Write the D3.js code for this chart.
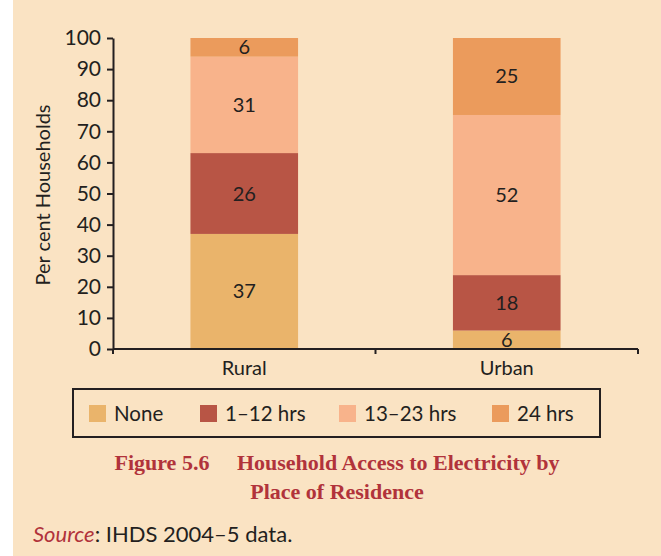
<!DOCTYPE html>
<meta charset="utf-8">
<style>
body{margin:0;background:#fff;}
text{font-family:"Lato","Noto Sans",sans-serif;fill:#231f20;}
.axis text{font-size:21px;}
.axis path,.axis line{stroke:#231f20;stroke-width:2px;}
.seg{font-size:20px;text-anchor:middle;}
.title{font-family:"Liberation Serif","DejaVu Serif",serif;font-size:22px;font-weight:bold;fill:#b1333b;text-anchor:middle;}
</style>
<body>
<script src="https://cdn.jsdelivr.net/npm/d3@7"></script>
<script>
var places = ["Rural","Urban"];
var series = ["None","1\u201312 hrs","13\u201323 hrs","24 hrs"];
var none    = [37, 6];
var hrs1_12 = [26, 18];
var hrs13_23= [31, 52];
var hrs24   = [6, 25];
var yTicks  = [0,10,20,30,40,50,60,70,80,90,100];
var colors  = ["#eab46b","#b85545","#f8b38b","#eb9b5c"];

var rows = places.map(function(p,i){
  return {place:p, "None":none[i], "1\u201312 hrs":hrs1_12[i], "13\u201323 hrs":hrs13_23[i], "24 hrs":hrs24[i]};
});

var W=661,H=556;
var svg=d3.select("body").append("svg").attr("width",W).attr("height",H);
svg.append("rect").attr("x",13).attr("y",0).attr("width",W-13).attr("height",H).attr("fill","#fae3c3");

var x=d3.scaleBand().domain(places).range([113,638]).paddingInner(0.59).paddingOuter(0.295);
var y=d3.scaleLinear().domain([0,1]).range([349,38]);
var color=d3.scaleOrdinal().domain(series).range(colors);

var stack=d3.stack().keys(series).offset(d3.stackOffsetExpand)(rows);

var g=svg.selectAll(".layer").data(stack).enter().append("g").attr("fill",function(d){return color(d.key);});
g.selectAll("rect").data(function(d){return d;}).enter().append("rect")
  .attr("x",function(d){return x(d.data.place);})
  .attr("width",x.bandwidth())
  .attr("y",function(d){return y(d[1]);})
  .attr("height",function(d){return y(d[0])-y(d[1]);});

g.each(function(s){
  d3.select(this).selectAll("text").data(s).enter().append("text").attr("class","seg")
    .attr("x",function(d){return x(d.data.place)+x.bandwidth()/2;})
    .attr("y",function(d){return (y(d[0])+y(d[1]))/2+7;})
    .text(function(d){return d.data[s.key];});
});

// y axis
svg.append("g").attr("class","axis").attr("transform","translate(113,0)")
  .call(d3.axisLeft(d3.scaleLinear().domain([0,100]).range([349,38])).tickValues(yTicks).tickSize(6).tickSizeOuter(0).tickPadding(6));
// x axis, ticks at band edges
var xa=svg.append("g").attr("class","axis").attr("transform","translate(0,349)");
xa.append("line").attr("x1",113).attr("x2",638).attr("y1",0).attr("y2",0);
var edges=[113].concat(places.map(function(p){return x(p)+x.bandwidth()+x.step()*x.paddingInner()/2;}));
edges[edges.length-1]=638;
xa.selectAll(".tk").data(edges).enter().append("line").attr("class","tk")
  .attr("x1",function(d){return d;}).attr("x2",function(d){return d;}).attr("y1",0).attr("y2",5);
xa.selectAll(".lb").data(places).enter().append("text").attr("class","lb")
  .attr("x",function(d){return x(d)+x.bandwidth()/2;}).attr("y",26)
  .attr("text-anchor","middle").style("font-size","20px").text(function(d){return d;});

svg.append("text").attr("transform","translate(50,195) rotate(-90)")
  .attr("text-anchor","middle").style("font-size","20px").text("Per cent Households");

// legend
svg.append("rect").attr("x",73).attr("y",389).attr("width",527).attr("height",48)
  .attr("fill","none").attr("stroke","#231f20").attr("stroke-width",2);
var legX=[89,200,339,492];
var lg=svg.selectAll(".leg").data(series).enter().append("g")
  .attr("transform",function(d,i){return "translate("+legX[i]+",405)";});
lg.append("rect").attr("width",17).attr("height",17).attr("fill",function(d){return color(d);});
lg.append("text").attr("x",25).attr("y",16).style("font-size","20.5px").text(function(d){return d;});

svg.append("text").attr("class","title").attr("x",337).attr("y",470).text("Figure 5.6\u2003 Household Access to Electricity by");
svg.append("text").attr("class","title").attr("x",337).attr("y",499).text("Place of Residence");

var src=svg.append("text").attr("x",33).attr("y",542).style("font-size","22px");
src.append("tspan").style("font-style","italic").style("fill","#b1333b").text("Source");
src.append("tspan").text(": IHDS 2004\u20135 data.");
</script>
</body>
